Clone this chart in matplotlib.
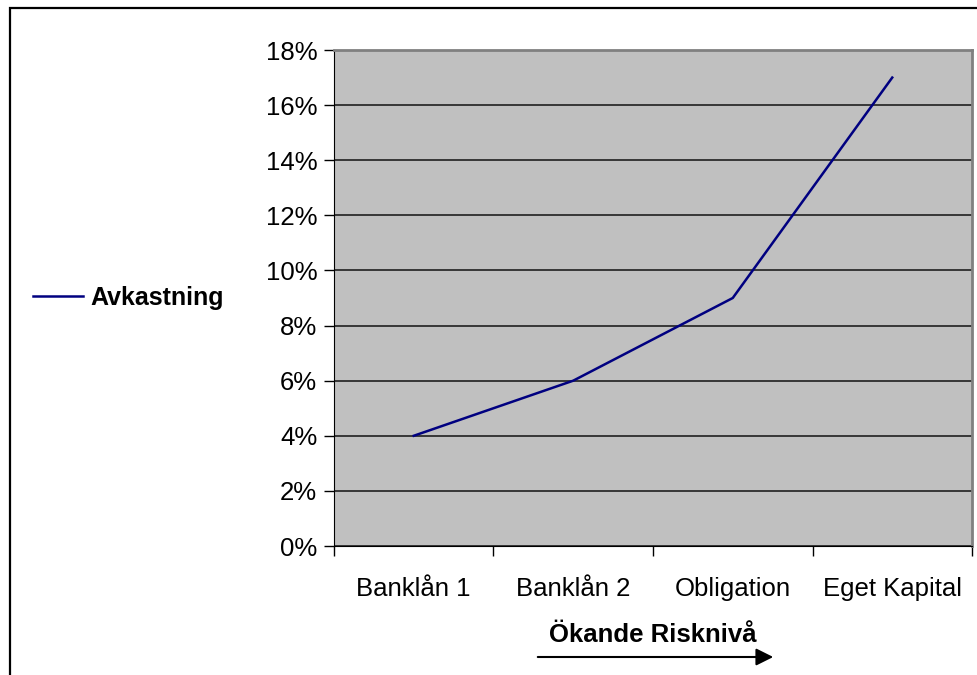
import matplotlib.pyplot as plt
from matplotlib.patches import Rectangle
from matplotlib.ticker import FuncFormatter

plt.rcParams['font.family'] = ['Liberation Sans', 'DejaVu Sans']

categories = ['Banklån 1', 'Banklån 2', 'Obligation', 'Eget Kapital']
avkastning = [0.04, 0.06, 0.09, 0.17]  # andel
yticks = [0.00, 0.02, 0.04, 0.06, 0.08, 0.10, 0.12, 0.14, 0.16, 0.18]

fig = plt.figure(figsize=(9.78, 6.75), dpi=100)
ax = fig.add_axes([334/978, 1 - 546/675, (972 - 334)/978, (546 - 50)/675])
ax.set_facecolor('#C0C0C0')

x = list(range(len(categories)))
ax.plot(x, avkastning, color='#000080', lw=1.8, label='Avkastning', zorder=3)

ax.set_xlim(-0.5, len(categories) - 0.5)
ax.set_ylim(0, 0.18)
ax.set_yticks(yticks)
ax.yaxis.set_major_formatter(FuncFormatter(lambda v, p: f'{v*100:.0f}%'))
ax.grid(axis='y', color='#202020', lw=1.2)
ax.set_axisbelow(True)

ax.set_xticks(x)
ax.set_xticklabels(categories)
ax.set_xticks([i - 0.5 for i in range(len(categories) + 1)], minor=True)
ax.tick_params(axis='x', which='major', length=0, pad=22, labelsize=18.5)
ax.tick_params(axis='x', which='minor', length=7, width=1, color='black', direction='out')
ax.tick_params(axis='y', length=7, width=1, labelsize=18.5, pad=5)

for s in ['top', 'right']:
    ax.spines[s].set_color('#808080')
    ax.spines[s].set_linewidth(2)
ax.spines['left'].set_color('black')
ax.spines['bottom'].set_color('black')

ax.set_xlabel('Ökande Risknivå', fontsize=18.5, fontweight='bold', labelpad=16)

fig.legend(loc='center left', bbox_to_anchor=(0.011, 1 - 298/675), frameon=False,
           handlelength=2.0, handletextpad=0.3, prop={'size': 18, 'weight': 'bold'})

# ram och pil under axeltiteln
fig.patches.append(Rectangle((10/978, -0.1), 1.2, (675 - 8)/675 + 0.1, transform=fig.transFigure,
                             fill=False, edgecolor='black', lw=1.6))
ax.annotate('', xy=(776/978, 1 - 657/675), xytext=(535/978, 1 - 657/675),
            xycoords='figure fraction', textcoords='figure fraction',
            arrowprops=dict(arrowstyle='-|>', color='black', lw=1.5, mutation_scale=26))

fig.savefig('out.png', dpi=100)
